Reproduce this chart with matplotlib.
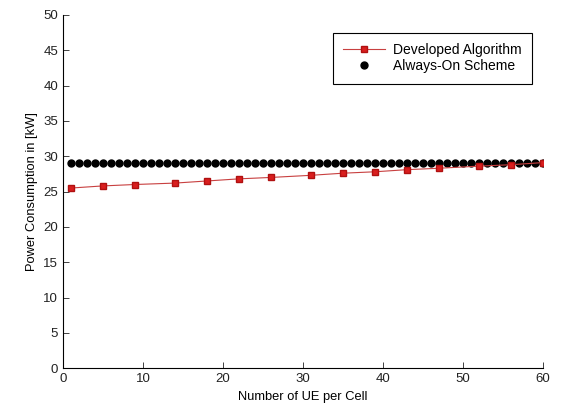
import matplotlib
matplotlib.use("Agg")
import matplotlib.pyplot as plt

plt.rcParams['font.family'] = ['Liberation Sans', 'DejaVu Sans']

dev_x = [1, 5, 9, 14, 18, 22, 26, 31, 35, 39, 43, 47, 52, 56, 60]
dev_y = [25.5, 25.8, 26.0, 26.2, 26.5, 26.8, 27.0, 27.3, 27.6, 27.8, 28.1, 28.3, 28.6, 28.8, 29.1]
aon_x = list(range(1, 61))
aon_y = [29.1] * 60
xticks = [0, 10, 20, 30, 40, 50, 60]
yticks = [0, 5, 10, 15, 20, 25, 30, 35, 40, 45, 50]

fig = plt.figure(figsize=(5.63, 4.05), dpi=100)
ax = fig.add_axes([0.112, 0.091, 0.852, 0.872])
ax.plot(dev_x, dev_y, color='#c84040', lw=0.8, marker='s', ms=5,
        mfc='#d91e1e', mec='#b01010', label='Developed Algorithm', zorder=3)
ax.plot(aon_x, aon_y, linestyle='none', marker='o', ms=5, color='black',
        label='Always-On Scheme', zorder=2)
ax.set_xlim(0, 60)
ax.set_ylim(0, 50)
ax.set_xticks(xticks)
ax.set_yticks(yticks)
ax.tick_params(direction='in', labelsize=9.5, length=4, width=0.6, colors='#222222')
for s in ['top', 'right']:
    ax.spines[s].set_visible(False)
for s in ['left', 'bottom']:
    ax.spines[s].set_linewidth(0.8)
ax.set_xlabel('Number of UE per Cell', fontsize=9.3, labelpad=4)
ax.set_ylabel('Power Consumption in [kW]', fontsize=9.3, labelpad=4)
leg = ax.legend(loc='upper right', bbox_to_anchor=(0.978, 0.95), fontsize=10,
                fancybox=False, edgecolor='black', framealpha=1,
                handlelength=3.0, handletextpad=0.6, borderpad=0.75,
                labelspacing=0.15, borderaxespad=0)
leg.get_frame().set_linewidth(0.8)
fig.savefig('out.png', dpi=100)
